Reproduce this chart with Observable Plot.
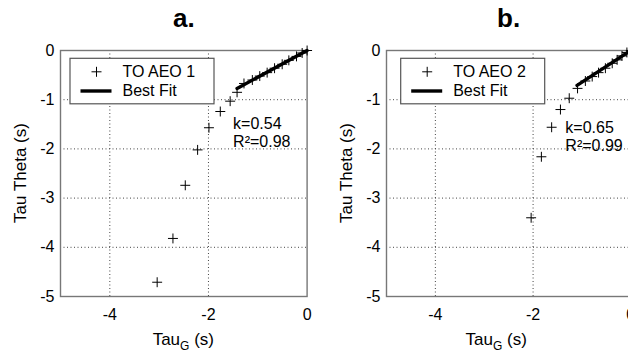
<!DOCTYPE html>
<html><head><meta charset="utf-8">
<script src="https://cdn.jsdelivr.net/npm/d3@7"></script>
<script src="https://cdn.jsdelivr.net/npm/@observablehq/plot@0.6"></script>
<style>
html,body{margin:0;padding:0;background:#fff;}
#wrap{position:relative;width:628px;height:352px;overflow:hidden;background:#fff;}
.panel{position:absolute;top:0;}
</style></head><body><div id="wrap"></div>
<script>
// ---- data ----
const xTicks = [-4, -2, 0];
const yTicks = [0, -1, -2, -3, -4, -5];
const titles = ["a.", "b."];
const seriesNames = ["TO AEO 1", "TO AEO 2"];
const fitName = "Best Fit";
const kLabels = ["k=0.54", "k=0.65"];
const r2Labels = ["R\u00B2=0.98", "R\u00B2=0.99"];
const xLabelMain = "Tau";
const xLabelSub = "G";
const xLabelUnit = " (s)";
const yLabel = "Tau Theta (s)";

// panel a: TauG vs Tau Theta
const aX = [-3.04, -2.72, -2.47, -2.22, -1.99, -1.76, -1.56, -1.42, -1.28, -1.11, -0.96, -0.81, -0.66, -0.505, -0.37, -0.215, -0.10, 0];
const aY = [-4.71, -3.82, -2.74, -2.02, -1.57, -1.24, -1.03, -0.85, -0.67, -0.60, -0.52, -0.45, -0.36, -0.28, -0.20, -0.12, -0.05, 0];
const fitAX = [-1.42, 0];
const fitAY = [-0.77, 0];

// panel b
const bX = [-2.04, -1.83, -1.62, -1.44, -1.26, -1.09, -0.93, -0.79, -0.66, -0.52, -0.38, -0.28, -0.18, -0.08, 0];
const bY = [-3.40, -2.16, -1.56, -1.20, -0.97, -0.77, -0.62, -0.53, -0.45, -0.36, -0.26, -0.19, -0.11, -0.04, 0];
const fitBX = [-1.10, 0];
const fitBY = [-0.71, 0];

// annotation anchors (data coordinates)
const annotX = [-1.50, -1.34];
const annotY = [-1.59, -1.67];

const FONT = "'Liberation Sans', Arial, Helvetica, sans-serif";

function makePanel(i, xs, ys, fx, fy, opts) {
  const pts = xs.map((x, j) => ({x, y: ys[j]}));
  const fit = fx.map((x, j) => ({x, y: fy[j]}));
  const W = 320, H = 352, ml = 60, mt = 50, mb = 56;
  const mr = W - ml - opts.frameW;
  const fmt = d => String(d);
  const chart = Plot.plot({
    width: W, height: H,
    marginLeft: ml, marginRight: mr, marginTop: mt, marginBottom: mb,
    style: {fontFamily: FONT, fontSize: "16px", background: "transparent", color: "#000", overflow: "visible"},
    x: {domain: [-5, 0], ticks: xTicks, tickFormat: fmt, tickSize: 0, tickPadding: 12, label: null},
    y: {domain: [-5, 0], ticks: yTicks, tickFormat: fmt, tickSize: 0, tickPadding: 6, label: null},
    marks: [
      Plot.gridX(xTicks.slice(0, 2), {stroke: "#444", strokeOpacity: 1, strokeDasharray: "1,2.5"}),
      Plot.gridY(yTicks.slice(1, 5), {stroke: "#444", strokeOpacity: 1, strokeDasharray: "1,2.5"}),
      Plot.frame({stroke: "#777", strokeWidth: 1.4}),
      Plot.line(fit, {x: "x", y: "y", stroke: "#000", strokeWidth: 3.4}),
      Plot.dot(pts, {x: "x", y: "y", symbol: "plus", r: 3.3, stroke: "#000", strokeWidth: 1}),
      Plot.text([kLabels[i]], {x: annotX[i], y: annotY[i], textAnchor: "start", lineAnchor: "bottom", fontSize: 16}),
      Plot.text([r2Labels[i]], {x: annotX[i], y: annotY[i], dy: 18.5, textAnchor: "start", lineAnchor: "bottom", fontSize: 16}),
      Plot.text([titles[i]], {frameAnchor: "top", dy: -24, lineAnchor: "bottom", fontSize: 26, fontWeight: "bold"})
    ]
  });
  const svg = d3.select(chart);
  const fw = opts.frameW, fh = H - mt - mb;
  // y axis label
  svg.append("text")
    .attr("transform", `translate(${ml - 34},${mt + fh / 2}) rotate(-90)`)
    .attr("text-anchor", "middle").attr("font-size", 17).attr("fill", "#000")
    .text(yLabel);
  // x axis label with subscript
  const xl = svg.append("text")
    .attr("x", ml + fw / 2 + opts.xlShift).attr("y", 345)
    .attr("text-anchor", "middle").attr("font-size", 17).attr("fill", "#000");
  xl.append("tspan").text(xLabelMain);
  xl.append("tspan").attr("dy", 5).attr("font-size", 12).text(xLabelSub);
  xl.append("tspan").attr("dy", -5).text(xLabelUnit);
  // legend box
  const lg = svg.append("g").attr("transform", `translate(${ml + opts.legDx},${mt + 8.3})`)
    .attr("text-anchor", "start");
  lg.append("rect").attr("width", 144).attr("height", 45.5)
    .attr("fill", "#fff").attr("stroke", "#555").attr("stroke-width", 1.2);
  lg.append("path").attr("d", "M21.5,13.5H31.5M26.5,8.5V18.5").attr("stroke", "#000").attr("stroke-width", 1);
  lg.append("text").attr("x", 52.5).attr("y", 18.8).attr("font-size", 16).attr("fill", "#000").text(seriesNames[i]);
  lg.append("line").attr("x1", 10.5).attr("x2", 41.5).attr("y1", 32.7).attr("y2", 32.7)
    .attr("stroke", "#000").attr("stroke-width", 3.4);
  lg.append("text").attr("x", 52.5).attr("y", 38.2).attr("font-size", 16).attr("fill", "#000").text(fitName);
  chart.classList.add("panel");
  chart.style.left = opts.left + "px";
  return chart;
}

const wrap = document.getElementById("wrap");
wrap.appendChild(makePanel(0, aX, aY, fitAX, fitAY, {left: 0, frameW: 246.6, legDx: 10, xlShift: 0}));
wrap.appendChild(makePanel(1, bX, bY, fitBX, fitBY, {left: 326, frameW: 244.3, legDx: 14.7, xlShift: -12}));
</script>
</body></html>
